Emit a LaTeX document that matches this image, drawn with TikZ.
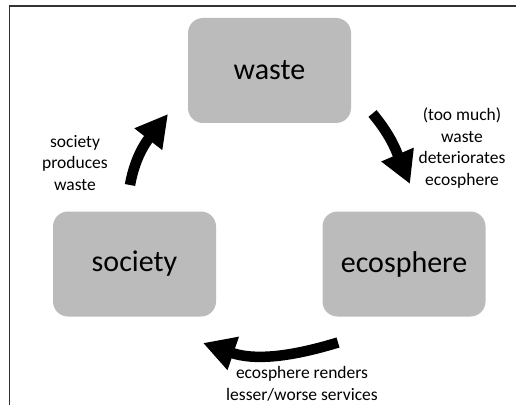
\documentclass[tikz,border=0pt]{standalone}
\usepackage{fontspec}
\setmainfont{Carlito}
\usetikzlibrary{arrows.meta}
\tikzset{
  box/.style={fill=boxgray, rounded corners=15pt, minimum width=163pt, minimum height=105pt, inner sep=0pt, font=\fontsize{30}{36}\selectfont},
  lbl/.style={align=center, font=\fontsize{17.5}{21.5}\selectfont, inner sep=0pt},
  bigarrow/.style={line width=10.5pt, -{Triangle[length=32pt, width=33pt]}},
}
\definecolor{boxgray}{HTML}{BBBBBB}
\begin{document}
\begin{tikzpicture}[x=1pt,y=1pt]
\useasboundingbox (0,0) rectangle (516,405);
\draw[line width=1.2pt, black!80] (9.8,0) -- (9.8,399) -- (516,399);
\node[box] (waste) at (269.5,334.5) {waste};
\node[box] (society) at (134.5,141) {society};
\node[box] (eco) at (404,141) {ecosphere};
\coordinate (t1) at (130,220);
\coordinate (h1) at (168,291);
\coordinate (t2) at (372.5,291.5);
\coordinate (h2) at (410,221);
\coordinate (t3) at (338,62.5);
\coordinate (h3) at (203,62);
\draw[bigarrow] (t1) to[out=80,in=-128] (h1);
\draw[bigarrow] (t2) to[out=-50,in=113] (h2);
\draw[bigarrow] (t3) to[out=-163,in=-19] (h3);
\node[lbl] (l1) at (75,242) {society\\produces\\waste};
\node[lbl] (l2) at (462,257) {(too much)\\waste\\deteriorates\\ecosphere};
\node[lbl] (l3) at (302,21) {ecosphere renders\\lesser/worse services};
\end{tikzpicture}
\end{document}
